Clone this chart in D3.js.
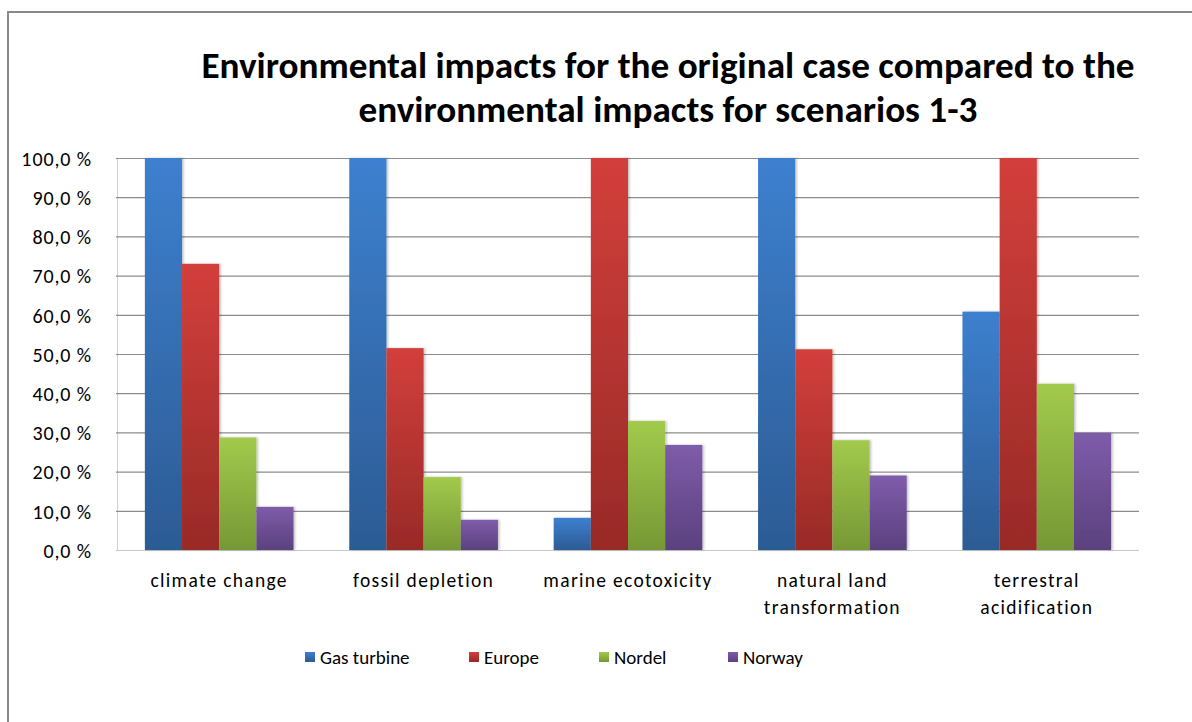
<!DOCTYPE html>
<html>
<head>
<meta charset="utf-8">
<script src="https://cdn.jsdelivr.net/npm/d3@7"></script>
<style>
  html, body { margin: 0; padding: 0; background: #fff; }
  svg { display: block; }
  text { font-family: Carlito, Lato, "Open Sans", sans-serif; fill: #000; }
</style>
</head>
<body>
<svg id="chart" width="1192" height="722"></svg>
<script>
// Chart data
const categories = [
  ["climate change"],
  ["fossil depletion"],
  ["marine ecotoxicity"],
  ["natural land", "transformation"],
  ["terrestral", "acidification"]
];
const seriesNames = ["Gas turbine", "Europe", "Nordel", "Norway"];
const gasTurbine = [100, 100, 8.2, 100, 60.8];
const europe     = [73.0, 51.5, 100, 51.2, 100];
const nordel     = [28.7, 18.6, 32.9, 28.0, 42.4];
const norway     = [11.0, 7.7, 26.8, 19.0, 29.9];
const yTicks = [0, 10, 20, 30, 40, 50, 60, 70, 80, 90, 100];
const titleLines = [
  "Environmental impacts for the original case compared to the",
  "environmental impacts for scenarios 1-3"
];

const seriesValues = [gasTurbine, europe, nordel, norway];
const seriesColors = [
  { top: "#3d80cf", bottom: "#2c5b94" },
  { top: "#d33f3b", bottom: "#982a27" },
  { top: "#a2ca4c", bottom: "#769835" },
  { top: "#7e5caa", bottom: "#5b417e" }
];

const svg = d3.select("#chart");
const W = 1192, H = 722;

// Outer chart frame
svg.append("rect")
  .attr("x", 8).attr("y", 12)
  .attr("width", W + 10).attr("height", H + 10)
  .attr("fill", "#fff")
  .attr("stroke", "#898989").attr("stroke-width", 2);

// Gradients for bars
const defs = svg.append("defs");
seriesColors.forEach((c, i) => {
  const g = defs.append("linearGradient")
    .attr("id", "grad" + i)
    .attr("x1", 0).attr("y1", 0).attr("x2", 0).attr("y2", 1);
  g.append("stop").attr("offset", "0%").attr("stop-color", c.top);
  g.append("stop").attr("offset", "100%").attr("stop-color", c.bottom);
});
const shadow = defs.append("filter").attr("id", "shadow")
  .attr("x", "-20%").attr("y", "-5%").attr("width", "140%").attr("height", "110%");
shadow.append("feDropShadow")
  .attr("dx", 1.5).attr("dy", 0).attr("stdDeviation", 1.2)
  .attr("flood-color", "#000").attr("flood-opacity", 0.25);

// Title
const title = svg.append("text")
  .attr("text-anchor", "middle")
  .attr("font-weight", "bold")
  .attr("font-size", 37.2);
titleLines.forEach((line, i) => {
  title.append("tspan")
    .attr("x", 668).attr("y", 78 + i * 44)
    .text(line);
});

// Plot area
const plot = { left: 117, right: 1139, top: 158, bottom: 550 };

const y = d3.scaleLinear().domain([0, 100]).range([plot.bottom, plot.top]);
const x0 = d3.scaleBand()
  .domain(d3.range(categories.length))
  .range([plot.left, plot.right])
  .paddingInner(0).paddingOuter(0);
const bw = x0.bandwidth();
// Gap width 150% of bar width, split on both sides
const x1 = d3.scaleBand()
  .domain(d3.range(seriesNames.length))
  .range([bw * 0.75 / 5.5, bw * 4.75 / 5.5])
  .padding(0);

// Horizontal gridlines
const yAxis = d3.axisLeft(y)
  .tickValues(yTicks)
  .tickSize(-(plot.right - plot.left))
  .tickFormat(d => d.toFixed(1).replace(".", ",") + " %");

const gy = svg.append("g")
  .attr("transform", `translate(${plot.left},0)`)
  .call(yAxis);
gy.select(".domain").attr("stroke", "#d0d0d0").attr("stroke-width", 1);
gy.selectAll(".tick line")
  .attr("stroke", d => d === 0 ? "#c8c8c8" : "#8c8c8c")
  .attr("stroke-width", 1.2)
  .attr("x1", -1);
gy.selectAll(".tick text")
  .attr("x", -25)
  .attr("dy", "0.36em")
  .attr("font-size", 20)
  .attr("letter-spacing", 0.9)
  .attr("fill", "#000")
  .style("font-family", "Carlito, Lato, 'Open Sans', sans-serif");

// Bars
const groups = svg.append("g").selectAll("g")
  .data(categories.map((c, i) => i))
  .join("g")
  .attr("transform", i => `translate(${x0(i)},0)`);

groups.selectAll("rect")
  .data(i => seriesValues.map((vals, s) => ({ s, v: vals[i] })))
  .join("rect")
  .attr("x", d => x1(d.s))
  .attr("width", x1.bandwidth())
  .attr("y", d => y(d.v))
  .attr("height", d => y(0) - y(d.v))
  .attr("fill", d => `url(#grad${d.s})`)
  .attr("filter", "url(#shadow)");

// Category labels
const xAxisG = svg.append("g");
categories.forEach((lines, i) => {
  const t = xAxisG.append("text")
    .attr("text-anchor", "middle")
    .attr("font-size", 19.5)
    .attr("letter-spacing", 1.3);
  lines.forEach((l, j) => {
    t.append("tspan")
      .attr("x", x0(i) + bw / 2)
      .attr("y", 587 + j * 27)
      .text(l);
  });
});

// Legend
const legendX = [305, 469, 599, 728];
const legend = svg.append("g");
seriesNames.forEach((name, i) => {
  legend.append("rect")
    .attr("x", legendX[i]).attr("y", 652)
    .attr("width", 10).attr("height", 10)
    .attr("fill", `url(#grad${i})`);
  legend.append("text")
    .attr("x", legendX[i] + 15).attr("y", 664)
    .attr("font-size", 19)
    .text(name);
});
</script>
</body>
</html>
